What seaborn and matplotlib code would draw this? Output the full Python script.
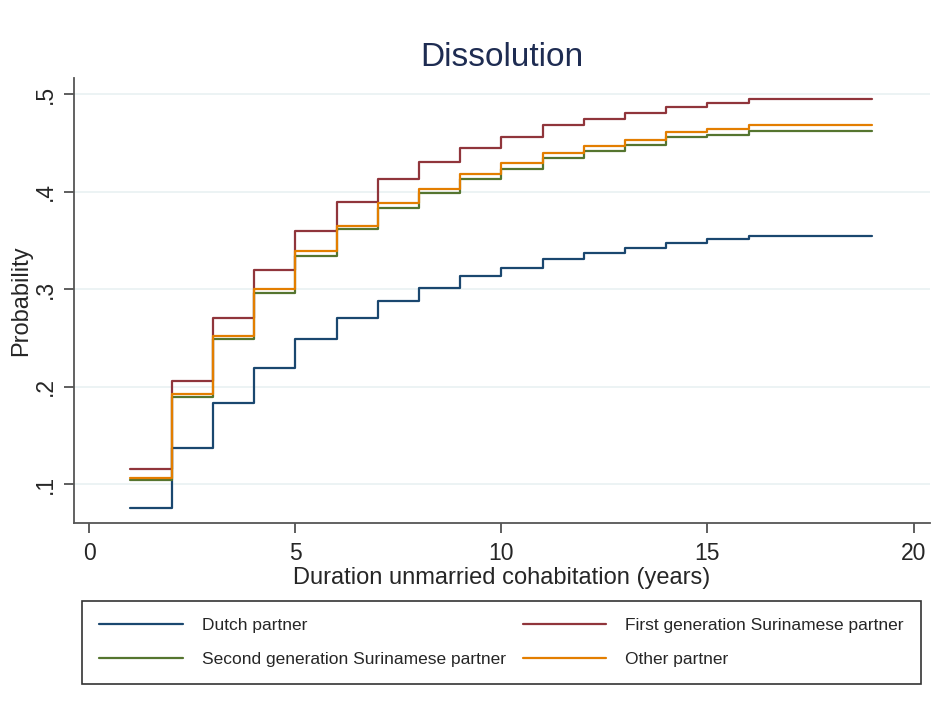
"""Step plot: cumulative probability of dissolution of unmarried cohabitation."""

import matplotlib

matplotlib.use("Agg")
import matplotlib.pyplot as plt
import pandas as pd
import seaborn as sns

years = list(range(1, 20))

dutch = [0.075, 0.137, 0.183, 0.219, 0.249, 0.270, 0.288, 0.301, 0.313, 0.322,
         0.331, 0.337, 0.342, 0.347, 0.351, 0.355, 0.355, 0.355, 0.355]
first_gen = [0.115, 0.206, 0.270, 0.320, 0.360, 0.389, 0.413, 0.431, 0.445, 0.456,
             0.468, 0.475, 0.481, 0.487, 0.491, 0.495, 0.495, 0.495, 0.495]
second_gen = [0.104, 0.189, 0.249, 0.296, 0.334, 0.362, 0.383, 0.399, 0.413, 0.423,
              0.435, 0.442, 0.448, 0.456, 0.458, 0.462, 0.462, 0.462, 0.462]
other = [0.106, 0.192, 0.252, 0.300, 0.339, 0.365, 0.388, 0.403, 0.418, 0.429,
         0.440, 0.447, 0.453, 0.461, 0.464, 0.468, 0.468, 0.468, 0.468]

groups = ["Dutch partner", "First generation Surinamese partner",
          "Second generation Surinamese partner", "Other partner"]
colors = ["#1a476f", "#90353b", "#55752f", "#e37e00"]


def main() -> None:
    sns.set_theme(style="white")
    plt.rcParams["font.family"] = ["Liberation Sans", "DejaVu Sans"]

    df = pd.concat([
        pd.DataFrame({"year": years, "prob": vals, "group": name})
        for name, vals in zip(groups, [dutch, first_gen, second_gen, other])
    ])

    fig = plt.figure(figsize=(9.41, 7.06), dpi=100)
    ax = fig.add_axes([74 / 941, 1 - 523 / 706, (930 - 74) / 941, (523 - 78) / 706])

    sns.lineplot(data=df, x="year", y="prob", hue="group", hue_order=groups,
                 palette=colors, drawstyle="steps-post", estimator=None,
                 linewidth=1.6, ax=ax, legend=False)

    ax.set_xlim(-0.37, 20.4)
    ax.set_ylim(0.06, 0.5167)
    ax.set_xticks([0, 5, 10, 15, 20])
    ax.set_yticks([0.1, 0.2, 0.3, 0.4, 0.5])
    ax.set_yticklabels([".1", ".2", ".3", ".4", ".5"], rotation=90, va="center")
    ax.yaxis.grid(True, color="#eaf2f3", linewidth=1.3)
    ax.set_axisbelow(True)
    for side in ["top", "right"]:
        ax.spines[side].set_visible(False)
    for side in ["left", "bottom"]:
        ax.spines[side].set_color("#555555")
        ax.spines[side].set_linewidth(1.3)
    ax.tick_params(axis="both", direction="out", length=7, width=1.1,
                   color="#333333", labelsize=16.5, left=True, bottom=True)
    ax.tick_params(axis="x", pad=7)
    ax.tick_params(axis="y", pad=5)

    ax.set_xlabel("Duration unmarried cohabitation (years)", fontsize=17, labelpad=1)
    ax.set_ylabel("Probability", fontsize=17, labelpad=1.5)
    ax.set_title("Dissolution", fontsize=24, color="#1e2c52", pad=9)

    handles = ax.get_lines()[:4]
    order = [0, 2, 1, 3]
    leg = fig.legend([handles[i] for i in order], [groups[i] for i in order],
                     loc="lower left", bbox_to_anchor=(82 / 941, 1 - 684 / 706, (921 - 82) / 941, 84 / 706),
                     mode="expand", ncol=2, fontsize=12.5, handlelength=4.8, handletextpad=1.1,
                     frameon=True, fancybox=False, edgecolor="black", borderaxespad=0,
                     labelspacing=1.05, borderpad=1.0)
    leg.get_frame().set_linewidth(1.2)

    fig.savefig("out.png", dpi=100)
    plt.close(fig)


if __name__ == "__main__":
    main()
